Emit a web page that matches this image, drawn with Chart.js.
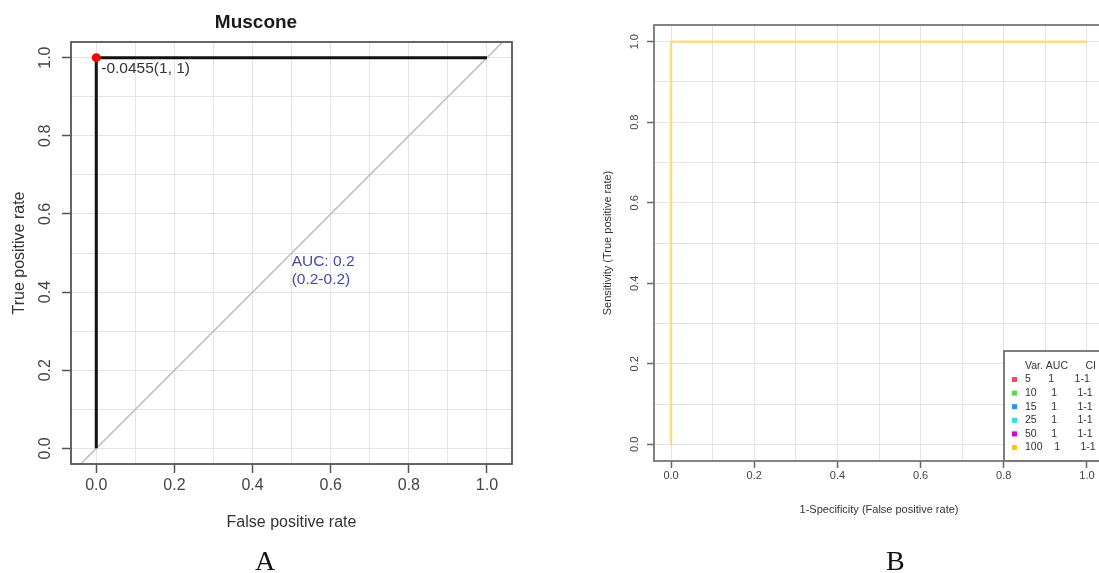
<!DOCTYPE html>
<html>
<head>
<meta charset="utf-8">
<title>ROC curves</title>
<script src="https://cdn.jsdelivr.net/npm/chart.js@4.4.0/dist/chart.umd.min.js"></script>
<style>
  html, body { margin: 0; padding: 0; background: #fff; overflow: hidden; }
  body { width: 1099px; height: 573px; position: relative; }
  #rocA { position: absolute; left: 0; top: 0; }
  #rocB { position: absolute; left: 590px; top: 0; }
  .panel-label {
    position: absolute; top: 547px; line-height: 28px;
    font-family: "Liberation Serif", "DejaVu Serif", serif; font-size: 28px; color: #111;
  }
</style>
</head>
<body>
<canvas id="rocA" width="583" height="573"></canvas>
<canvas id="rocB" width="520" height="573"></canvas>
<div class="panel-label" style="left:255px">A</div>
<div class="panel-label" style="left:886px">B</div>

<script>
// --- Panel A: Muscone ---
const fprA = [0, 0, 1];
const tprA = [0, 1, 1];
const chanceX = [-0.1, 1.1];
const chanceY = [-0.1, 1.1];
const bestFpr = [0];
const bestTpr = [1];
const bestThreshold = -0.0455;
const bestSpec = 1;
const bestSens = 1;
const aucA = 0.2;
const aucCiA = [0.2, 0.2];
const aucTextX = 0.5;
const aucTextY = 0.5;

// --- Panel B: variables ---
const varNames = ["5", "10", "15", "25", "50", "100"];
const aucB = [1, 1, 1, 1, 1, 1];
const ciLowB = [1, 1, 1, 1, 1, 1];
const ciHighB = [1, 1, 1, 1, 1, 1];
const fprB = [[0, 0, 1], [0, 0, 1], [0, 0, 1], [0, 0, 1], [0, 0, 1], [0, 0, 1]];
const tprB = [[0, 1, 1], [0, 1, 1], [0, 1, 1], [0, 1, 1], [0, 1, 1], [0, 1, 1]];

// legend markers, and the paler tone the curves are drawn in
const coloursB = ["#DF536B", "#61D04F", "#2297E6", "#28E2E5", "#CD0BBC", "#F5C710"];
const lineColoursB = ["#EFA9B5", "#B0E8A7", "#90CBF3", "#93F0F2", "#E685DD", "#F7DD8A"];
const FONT = "'Liberation Sans', Arial, sans-serif";

Chart.defaults.font.family = FONT;
Chart.defaults.animation = false;

function toPoints(xs, ys) {
    return xs.map((x, i) => ({ x: x, y: ys[i] }));
}

// ticks every 0.1 for the grid, labels and tick marks only every 0.2
function isMajor(v) {
    return Math.abs(Math.round(v * 10)) % 2 === 0;
}

function rocScale(o) {
    return {
        type: "linear",
        position: o.position,
        min: o.min,
        max: o.max,
        border: { display: false },
        grid: {
            color: "#e4e4e4",
            lineWidth: 1,
            tickLength: o.tickLength,
            tickWidth: 1.5,
            tickColor: c => (c.tick && isMajor(c.tick.value)) ? o.boxColor : "rgba(0,0,0,0)"
        },
        ticks: {
            stepSize: 0.1,
            includeBounds: false,
            autoSkip: false,
            minRotation: o.rotation,
            maxRotation: o.rotation,
            crossAlign: "center",
            padding: o.tickPadding,
            color: "#444",
            font: { size: o.tickSize },
            callback: v => isMajor(v) ? v.toFixed(1) : ""
        },
        title: {
            display: true,
            text: o.title,
            color: "#333",
            font: { size: o.titleSize },
            padding: o.titlePadding
        },
        afterFit: s => {
            if (o.position === "left") s.width = o.fitSize;
            else s.height = o.fitSize;
        }
    };
}

function boxPlugin(colour, width) {
    return {
        id: "plotBox",
        afterDraw(chart) {
            const a = chart.chartArea;
            const ctx = chart.ctx;
            ctx.save();
            ctx.strokeStyle = colour;
            ctx.lineWidth = width;
            ctx.strokeRect(a.left, a.top, a.right - a.left, a.bottom - a.top);
            ctx.restore();
        }
    };
}

// Labels on panel A: best threshold and AUC with CI
const rocTextA = {
    id: "rocTextA",
    afterDatasetsDraw(chart) {
        const { ctx, scales: { x, y } } = chart;
        ctx.save();
        ctx.font = "15.5px " + FONT;
        ctx.textBaseline = "middle";
        ctx.textAlign = "left";
        ctx.fillStyle = "#333";
        const px = x.getPixelForValue(bestFpr[0]);
        const py = y.getPixelForValue(bestTpr[0]);
        ctx.fillText(bestThreshold + "(" + bestSpec + ", " + bestSens + ")", px + 5, py + 11);

        ctx.fillStyle = "#4848aa";
        const ax = x.getPixelForValue(aucTextX);
        const ay = y.getPixelForValue(aucTextY);
        ctx.fillText("AUC: " + aucA, ax, ay + 9);
        ctx.fillText("(" + aucCiA[0] + "-" + aucCiA[1] + ")", ax, ay + 27);
        ctx.restore();
    }
};

// Table legend on panel B, bottom right of the plot
const aucTableB = {
    id: "aucTableB",
    afterDraw(chart) {
        const { ctx, chartArea } = chart;
        const boxW = 100, boxH = 110;
        const left = chartArea.right - boxW;
        const top = chartArea.bottom - boxH;
        ctx.save();
        ctx.fillStyle = "#fff";
        ctx.fillRect(left, top, boxW, boxH);
        ctx.strokeStyle = "#555";
        ctx.lineWidth = 1.5;
        ctx.strokeRect(left, top, boxW, boxH);

        ctx.font = "10.5px " + FONT;
        ctx.textBaseline = "middle";
        ctx.textAlign = "left";
        ctx.fillStyle = "#333";
        ctx.fillText("Var. AUC      CI", left + 21, top + 15);
        varNames.forEach((v, i) => {
            const ty = top + 28.5 + i * 13.6;
            ctx.fillStyle = coloursB[i];
            ctx.fillRect(left + 8, ty - 2.5, 5, 5);
            ctx.fillStyle = "#333";
            const row = v + " ".repeat(7 - v.length) + aucB[i] + " ".repeat(7) + ciLowB[i] + "-" + ciHighB[i];
            ctx.fillText(row, left + 21, ty);
        });
        ctx.restore();
    }
};

// --- Chart A ---
new Chart(document.getElementById("rocA"), {
    type: "scatter",
    data: {
        datasets: [
            {
                label: "Best threshold",
                data: toPoints(bestFpr, bestTpr),
                pointRadius: 4.5,
                pointBackgroundColor: "#ff0000",
                pointBorderWidth: 0,
                order: 0
            },
            {
                label: "Muscone",
                data: toPoints(fprA, tprA),
                showLine: true,
                borderColor: "#111",
                borderWidth: 3,
                pointRadius: 0,
                order: 1
            },
            {
                label: "Chance",
                data: toPoints(chanceX, chanceY),
                showLine: true,
                borderColor: "#bdbdbd",
                borderWidth: 1.5,
                pointRadius: 0,
                order: 2
            }
        ]
    },
    options: {
        responsive: false,
        devicePixelRatio: 1,
        layout: { padding: { left: 0, right: 71, top: 0, bottom: 0 } },
        plugins: {
            legend: { display: false },
            tooltip: { enabled: false },
            title: {
                display: true,
                text: "Muscone",
                color: "#1a1a1a",
                font: { size: 19, weight: "bold" },
                padding: { top: 11.6, bottom: 7.6 }
            }
        },
        scales: {
            x: rocScale({
                position: "bottom", min: -0.0647, max: 1.064, tickLength: 9, tickPadding: 12.4,
                tickSize: 16, rotation: 0, title: "False positive rate", titleSize: 16,
                titlePadding: { top: 0, bottom: 40.4 }, fitSize: 109, boxColor: "#555"
            }),
            y: rocScale({
                position: "left", min: -0.04, max: 1.04, tickLength: 9, tickPadding: 5,
                tickSize: 16, rotation: 90, title: "True positive rate", titleSize: 16,
                titlePadding: { top: 10, bottom: 0 }, fitSize: 71, boxColor: "#555"
            })
        }
    },
    plugins: [rocTextA, boxPlugin("#555", 1.8)]
});

// --- Chart B ---
// the last curve (100) is drawn on top and hides the others
new Chart(document.getElementById("rocB"), {
    type: "scatter",
    data: {
        datasets: varNames.map((v, i) => ({
            label: v,
            data: toPoints(fprB[i], tprB[i]),
            showLine: true,
            borderColor: lineColoursB[i],
            borderWidth: i === varNames.length - 1 ? 2.5 : 1.5,
            pointRadius: 0,
            order: varNames.length - i
        }))
    },
    options: {
        responsive: false,
        devicePixelRatio: 1,
        layout: { padding: { left: 0, right: 6, top: 25, bottom: 0 } },
        plugins: {
            legend: { display: false },
            tooltip: { enabled: false }
        },
        scales: {
            x: rocScale({
                position: "bottom", min: -0.041, max: 1.041, tickLength: 7, tickPadding: 8.4,
                tickSize: 11, rotation: 0, title: "1-Specificity (False positive rate)", titleSize: 11,
                titlePadding: { top: 0, bottom: 56.4 }, fitSize: 112, boxColor: "#666"
            }),
            y: rocScale({
                position: "left", min: -0.0415, max: 1.0415, tickLength: 7, tickPadding: 4.4,
                tickSize: 11, rotation: 90, title: "Sensitivity (True positive rate)", titleSize: 11,
                titlePadding: { top: 11.4, bottom: 0 }, fitSize: 64, boxColor: "#666"
            })
        }
    },
    plugins: [aucTableB, boxPlugin("#777", 1.8)]
});
</script>
</body>
</html>
